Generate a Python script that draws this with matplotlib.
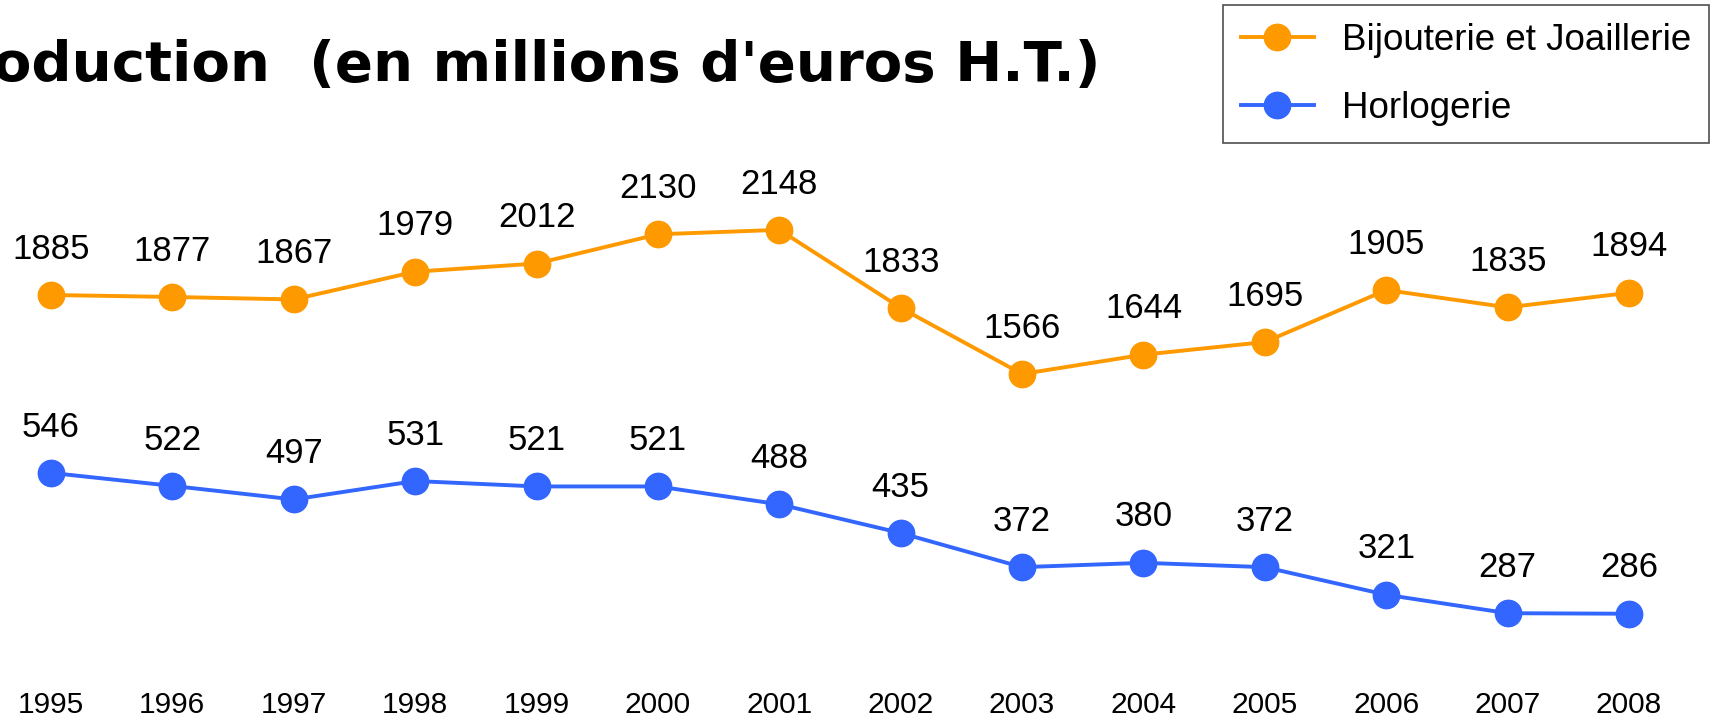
import matplotlib.pyplot as plt
from matplotlib.lines import Line2D

# Data
years = list(range(1995, 2009))
bijouterie = [1885, 1877, 1867, 1979, 2012, 2130, 2148, 1833, 1566, 1644, 1695, 1905, 1835, 1894]
horlogerie = [546, 522, 497, 531, 521, 521, 488, 435, 372, 380, 372, 321, 287, 286]

orange = "#FF9900"
blue = "#3366FF"
font = "Liberation Sans"

fig = plt.figure(figsize=(17.15, 7.21), dpi=100)
ax = fig.add_axes([0, 0, 1, 1])
ax2 = ax.twinx()

# each series has its own vertical scale
ax.plot(years, bijouterie, color=orange, lw=2.8, marker="o", ms=19)
ax2.plot(years, horlogerie, color=blue, lw=2.8, marker="o", ms=19)
ax.set_ylim(165, 3076)
ax2.set_ylim(88, 1419)
ax.set_xlim(1994.58, 2008.708)

for a, vals in ((ax, bijouterie), (ax2, horlogerie)):
    for x, v in zip(years, vals):
        a.annotate(str(v), (x, v), xytext=(0, 33), textcoords="offset points",
                   ha="center", va="center", fontsize=25, family=font)
    a.set_axis_off()

# year labels along the bottom
for x in years:
    ax.text(x, 0.022, str(x), transform=ax.get_xaxis_transform(), ha="center",
            va="center", fontsize=21.5, family=font)

fig.text(1101 / 1715, 0.908, "Production  (en millions d'euros H.T.)", ha="right", va="center",
         fontsize=40.5, fontweight="bold", family="DejaVu Sans")

handles = [Line2D([], [], color=orange, lw=2.8, marker="o", ms=19),
           Line2D([], [], color=blue, lw=2.8, marker="o", ms=19)]
leg = fig.legend(handles, ["Bijouterie et Joaillerie", "Horlogerie"], loc="upper left",
                 bbox_to_anchor=(1223 / 1715, 1 - 5 / 721), frameon=True, fancybox=False,
                 prop={"family": font, "size": 26.5}, handlelength=2.0, borderpad=0.48,
                 labelspacing=0.9, handletextpad=0.75, borderaxespad=0)
leg.get_frame().set_edgecolor("#222222")
leg.get_frame().set_linewidth(1.2)

fig.savefig("out.png", dpi=100)
